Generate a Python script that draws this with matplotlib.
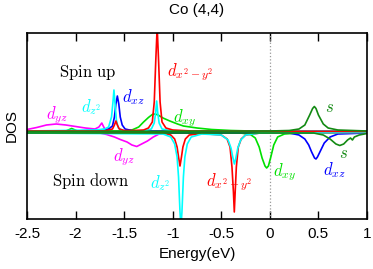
import matplotlib
matplotlib.use("Agg")
import matplotlib.pyplot as plt

# --- data (energy in eV, DOS in arbitrary units) ---
# spin up
e_yz_up = [-2.5, -2.4, -2.3, -2.2, -2.1, -2.0, -1.9, -1.8, -1.76, -1.73, -1.71, -1.68, 1.0]
d_yz_up = [0.025, 0.045, 0.07, 0.08, 0.07, 0.055, 0.04, 0.03, 0.05, 0.09, 0.05, 0.005, 0.003]

e_xy_up = [-2.5, -2.1, -2.04, -1.98, -1.5, -1.42, -1.35, -1.30, -1.25, -1.21, -1.18, -1.15,
           -1.10, -1.03, -0.95, -0.89, -0.75, -0.6, -0.4, -0.2, 1.0]
d_xy_up = [0.005, 0.01, 0.035, 0.01, 0.01, 0.02, 0.05, 0.10, 0.145, 0.175, 0.18, 0.17,
           0.14, 0.11, 0.08, 0.06, 0.04, 0.025, 0.015, 0.01, 0.005]

e_xz_up = [-2.5, -2.0, -1.75, -1.66, -1.62, -1.60, -1.585, -1.57, -1.555, -1.54, -1.52, -1.49, -1.4, 1.0]
d_xz_up = [0.005, 0.01, 0.02, 0.03, 0.06, 0.15, 0.28, 0.36, 0.28, 0.15, 0.07, 0.03, 0.01, 0.005]

e_x2y2_up = [-2.5, -1.70, -1.62, -1.60, -1.585, -1.57, -1.55, -1.50, -1.40, -1.30, -1.25, -1.21,
             -1.19, -1.175, -1.16, -1.145, -1.13, -1.11, -1.07, -1.0, -0.8, 1.0]
d_x2y2_up = [0.01, 0.01, 0.03, 0.07, 0.11, 0.07, 0.03, 0.015, 0.015, 0.02, 0.04, 0.10,
             0.30, 0.70, 1.05, 0.70, 0.30, 0.10, 0.04, 0.02, 0.01, 0.005]

e_z2_up = [-2.5, -1.8, -1.7, -1.66, -1.63, -1.615, -1.605, -1.595, -1.58, -1.56, -1.5, -1.3,
           -1.22, -1.19, -1.175, -1.165, -1.155, -1.14, -1.11, -1.0, 1.0]
d_z2_up = [0.01, 0.02, 0.03, 0.05, 0.15, 0.30, 0.42, 0.30, 0.12, 0.04, 0.01, 0.01,
           0.03, 0.09, 0.20, 0.31, 0.20, 0.09, 0.03, 0.01, 0.005]

e_s_up = [-2.5, 0.0, 0.2, 0.3, 0.36, 0.41, 0.44, 0.458, 0.475, 0.50, 0.55, 0.6, 0.7, 1.0]
d_s_up = [0.005, 0.01, 0.015, 0.03, 0.07, 0.17, 0.235, 0.255, 0.235, 0.17, 0.08, 0.04, 0.02, 0.01]

# spin down
e_yz_dn = [-2.5, -1.75, -1.68, -1.6, -1.54, -1.47, -1.42, -1.37, -1.32, -1.26, -1.2, -1.14, -1.0, 1.0]
d_yz_dn = [-0.01, -0.01, -0.025, -0.05, -0.075, -0.10, -0.13, -0.145, -0.12, -0.09, -0.05, -0.02, -0.01, -0.005]

e_xy_dn = [-2.5, -0.3, -0.2, -0.15, -0.11, -0.08, -0.05, -0.033, -0.015, 0.01, 0.04, 0.08, 0.15, 0.3, 1.0]
d_xy_dn = [-0.01, -0.01, -0.025, -0.06, -0.15, -0.26, -0.34, -0.36, -0.34, -0.25, -0.13, -0.05, -0.02, -0.01, -0.005]

e_xz_dn = [-2.5, 0.2, 0.3, 0.36, 0.40, 0.43, 0.46, 0.475, 0.49, 0.52, 0.56, 0.62, 0.7, 1.0]
d_xz_dn = [-0.01, -0.01, -0.03, -0.07, -0.13, -0.20, -0.26, -0.27, -0.25, -0.19, -0.11, -0.05, -0.02, -0.01]

e_x2y2_dn = [-2.5, -1.1, -1.02, -0.98, -0.955, -0.94, -0.925, -0.91, -0.895, -0.87, -0.83, -0.7,
             -0.5, -0.44, -0.41, -0.39, -0.375, -0.366, -0.357, -0.345, -0.325, -0.295, -0.25, -0.1, 1.0]
d_x2y2_dn = [-0.01, -0.01, -0.03, -0.07, -0.15, -0.25, -0.34, -0.25, -0.15, -0.07, -0.03, -0.015,
             -0.03, -0.07, -0.15, -0.35, -0.60, -0.80, -0.60, -0.35, -0.15, -0.07, -0.03, -0.01, -0.005]

e_z2_dn = [-2.5, -1.1, -1.02, -0.98, -0.955, -0.94, -0.925, -0.915, -0.905, -0.89, -0.875, -0.85,
           -0.81, -0.7, -0.5, -0.43, -0.40, -0.38, -0.365, -0.35, -0.33, -0.30, -0.25, -0.1, 1.0]
d_z2_dn = [-0.01, -0.02, -0.05, -0.12, -0.25, -0.45, -0.80, -0.95, -0.80, -0.45, -0.25, -0.12,
           -0.05, -0.02, -0.03, -0.08, -0.16, -0.26, -0.32, -0.26, -0.16, -0.08, -0.03, -0.01, -0.005]

e_s_dn = [-2.5, 0.45, 0.55, 0.62, 0.68, 0.72, 0.76, 0.80, 0.83, 0.85, 0.87, 0.92, 1.0]
d_s_dn = [-0.01, -0.01, -0.03, -0.07, -0.12, -0.135, -0.12, -0.08, -0.06, -0.08, -0.05, -0.03, -0.015]

xticks = [-2.5, -2, -1.5, -1, -0.5, 0, 0.5, 1]
xticklabels = ["-2.5", "-2", "-1.5", "-1", "-0.5", "0", "0.5", "1"]

plt.rcParams["font.family"] = ["Liberation Sans", "DejaVu Sans"]
plt.rcParams["mathtext.fontset"] = "cm"

fig = plt.figure(figsize=(3.73, 2.69), dpi=100)
ax = fig.add_axes([27 / 373, 50 / 269, 340 / 373, 186 / 269])

c_yz, c_xy, c_xz, c_x2, c_z2, c_s = "#ff00ff", "#00e000", "#0000ff", "#ff0000", "#00ffff", "#138a13"
lw = 1.2

ax.axvline(0, color="#999999", lw=0.9, ls=":")

ax.plot(e_yz_up, d_yz_up, color=c_yz, lw=lw)
ax.plot(e_yz_dn, d_yz_dn, color=c_yz, lw=lw)
ax.plot(e_xy_up, d_xy_up, color=c_xy, lw=lw)
ax.plot(e_xy_dn, d_xy_dn, color=c_xy, lw=lw)
ax.plot(e_xz_up, d_xz_up, color=c_xz, lw=lw)
ax.plot(e_xz_dn, d_xz_dn, color=c_xz, lw=lw)
ax.plot(e_x2y2_dn, d_x2y2_dn, color=c_x2, lw=lw)
ax.plot(e_z2_dn, d_z2_dn, color=c_z2, lw=lw)
ax.plot(e_z2_up, d_z2_up, color=c_z2, lw=lw)
ax.plot(e_x2y2_up, d_x2y2_up, color=c_x2, lw=lw)
ax.plot(e_s_up, d_s_up, color=c_s, lw=lw)
ax.plot(e_s_dn, d_s_dn, color=c_s, lw=lw)

ax.set_xlim(-2.5, 1.0)
ax.set_ylim(-0.87, 0.99)
ax.set_xticks(xticks)
ax.set_xticklabels(xticklabels)
ax.set_yticks([])
ax.tick_params(axis="x", direction="in", length=6, width=1, top=True, labelsize=11, pad=6)
for sp in ax.spines.values():
    sp.set_linewidth(1.2)

fs = 12
ax.text(-1.872, 0.60, r"$\mathrm{Spin\ up}$", fontsize=fs, ha="center", va="center")
ax.text(-1.841, -0.49, r"$\mathrm{Spin\ down}$", fontsize=fs, ha="center", va="center")

ax.text(-0.822, 0.60, r"$d_{x^2-y^2}$", color=c_x2, fontsize=fs, ha="center", va="center")
ax.text(-1.409, 0.35, r"$d_{xz}$", color=c_xz, fontsize=fs, ha="center", va="center")
ax.text(-1.841, 0.25, r"$d_{z^2}$", color=c_z2, fontsize=fs, ha="center", va="center")
ax.text(-2.191, 0.17, r"$d_{yz}$", color=c_yz, fontsize=fs, ha="center", va="center")
ax.text(-0.874, 0.14, r"$d_{xy}$", color=c_xy, fontsize=fs, ha="center", va="center")
ax.text(0.609, 0.25, r"$s$", color=c_s, fontsize=fs, ha="center", va="center")

ax.text(-1.501, -0.25, r"$d_{yz}$", color=c_yz, fontsize=fs, ha="center", va="center")
ax.text(-1.131, -0.51, r"$d_{z^2}$", color=c_z2, fontsize=fs, ha="center", va="center")
ax.text(-0.421, -0.50, r"$d_{x^2-y^2}$", color=c_x2, fontsize=fs, ha="center", va="center")
ax.text(0.156, -0.40, r"$d_{xy}$", color=c_xy, fontsize=fs, ha="center", va="center")
ax.text(0.660, -0.38, r"$d_{xz}$", color=c_xz, fontsize=fs, ha="center", va="center")
ax.text(0.763, -0.22, r"$s$", color=c_s, fontsize=fs, ha="center", va="center")

ax.set_title("Co (4,4)", fontsize=11, pad=14)
ax.set_xlabel("Energy(eV)", fontsize=11, labelpad=4)
ax.set_ylabel("DOS", fontsize=11, labelpad=6)

fig.savefig("out.png", dpi=100)
